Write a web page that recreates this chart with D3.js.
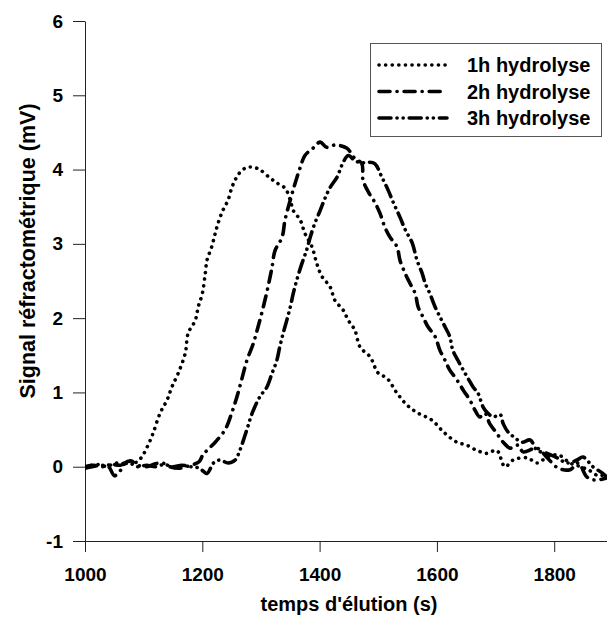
<!DOCTYPE html>
<html>
<head>
<meta charset="utf-8">
<script src="https://cdn.jsdelivr.net/npm/d3@7"></script>
<style>
  html, body { margin: 0; padding: 0; background: #fff; }
  svg { display: block; font-family: "Liberation Sans", Arial, sans-serif; font-weight: bold; }
</style>
</head>
<body>
<svg id="chart" width="607" height="619"></svg>
<script>
// Elution time (s) and refractometric signal (mV) for each hydrolysis duration
const t1h = [1000,1012,1025,1038,1050,1062,1075,1088,1099,1108,1116,1128,1140,1148,1159,1171,1176,1188,1193,1200,1205,1208,1216,1222,1227,1235,1244,1250,1256,1264,1276,1287,1298,1315,1327,1341,1350,1355,1367,1375,1387,1395,1404,1418,1426,1440,1449,1460,1469,1486,1500,1515,1532,1549,1568,1591,1611,1634,1651,1668,1685,1702,1716,1730,1754,1771,1788,1807,1827,1845,1860,1875,1890];
const v1h = [0.0,0.02,0.03,0.0,0.05,0.04,0.07,0.06,0.16,0.3,0.45,0.72,0.9,1.07,1.26,1.53,1.8,1.97,2.15,2.33,2.6,2.78,2.96,3.14,3.28,3.45,3.59,3.75,3.86,3.96,4.03,4.03,4.0,3.89,3.82,3.75,3.59,3.45,3.32,3.14,2.96,2.74,2.56,2.42,2.24,2.11,1.97,1.84,1.61,1.48,1.26,1.19,0.99,0.83,0.72,0.63,0.47,0.33,0.29,0.22,0.18,0.22,0.0,0.09,0.12,0.05,0.13,0.16,0.05,0.0,-0.05,-0.12,-0.1];

const t2h = [1000,1012,1025,1040,1050,1058,1068,1078,1090,1105,1120,1132,1145,1160,1172,1185,1195,1201,1212,1222,1239,1250,1259,1267,1276,1287,1295,1304,1312,1319,1324,1336,1341,1350,1358,1367,1375,1389,1401,1412,1426,1446,1460,1472,1474,1483,1494,1503,1511,1520,1532,1537,1546,1554,1563,1568,1576,1585,1597,1605,1614,1622,1634,1645,1656,1665,1673,1682,1690,1702,1713,1725,1738,1747,1771,1788,1807,1827,1841,1856,1870,1890];
const v2h = [-0.02,0.0,0.02,0.0,-0.12,-0.08,0.05,0.08,0.02,0.0,0.04,0.05,0.0,-0.02,0.0,0.03,0.07,0.16,0.25,0.33,0.5,0.72,0.94,1.17,1.43,1.66,1.88,2.15,2.42,2.69,2.91,3.09,3.32,3.59,3.81,4.03,4.19,4.29,4.37,4.30,4.33,4.29,4.15,4.08,3.86,3.70,3.56,3.41,3.23,3.09,2.96,2.78,2.6,2.47,2.33,2.15,2.02,1.88,1.75,1.57,1.43,1.30,1.17,1.03,0.9,0.76,0.67,0.72,0.58,0.45,0.33,0.25,0.29,0.2,0.25,0.12,-0.02,-0.04,0.05,-0.14,-0.18,-0.15];

const t3h = [1000,1015,1030,1045,1060,1075,1090,1105,1120,1135,1150,1165,1180,1195,1208,1219,1230,1244,1256,1264,1276,1285,1298,1310,1319,1327,1332,1338,1344,1350,1355,1361,1370,1378,1384,1392,1401,1409,1418,1430,1438,1449,1460,1472,1483,1494,1506,1517,1526,1537,1546,1558,1566,1575,1580,1588,1597,1605,1614,1622,1627,1636,1645,1653,1662,1670,1679,1687,1696,1708,1713,1721,1733,1745,1759,1771,1788,1805,1822,1839,1849,1866,1881,1890];
const v3h = [0.0,0.02,0.0,0.03,0.02,0.05,0.0,0.02,0.0,0.03,0.0,0.02,0.0,-0.02,-0.09,0.05,0.09,0.05,0.09,0.22,0.5,0.72,0.94,1.07,1.26,1.43,1.61,1.8,1.97,2.15,2.33,2.51,2.74,2.92,3.09,3.28,3.45,3.61,3.76,3.9,4.06,4.19,4.12,4.09,4.1,4.08,3.9,3.72,3.55,3.36,3.19,3.01,2.78,2.6,2.47,2.33,2.15,2.02,1.88,1.75,1.57,1.43,1.30,1.19,1.07,0.99,0.8,0.72,0.67,0.7,0.58,0.47,0.39,0.33,0.36,0.22,0.18,0.12,0.05,0.09,0.13,0.0,-0.08,-0.14];

const seriesNames = ["1h hydrolyse", "2h hydrolyse", "3h hydrolyse"];
const xTicks = [1000, 1200, 1400, 1600, 1800];
const yTicks = [-1, 0, 1, 2, 3, 4, 5, 6];
const xTitle = "temps d'élution (s)";
const yTitle = "Signal réfractométrique (mV)";

const series = [
  { name: seriesNames[0], t: t1h, v: v1h, dash: "0.1,6.5" },
  { name: seriesNames[1], t: t2h, v: v2h, dash: "11,7,0.1,7" },
  { name: seriesNames[2], t: t3h, v: v3h, dash: "12,6,0.1,6,0.1,6" }
];

const svg = d3.select("#chart");
const x = d3.scaleLinear().domain([1000, 1890]).range([85, 607]);
const y = d3.scaleLinear().domain([-1, 6]).range([541, 21]);

svg.append("defs").append("clipPath").attr("id", "plot")
  .append("rect").attr("x", 85).attr("y", 0).attr("width", 522).attr("height", 560);

// axes (plain hyphen for negative labels)
const fmt = d => String(d);
const xAxis = svg.append("g").attr("transform", `translate(0,${y(-1)})`)
  .call(d3.axisBottom(x).tickValues(xTicks).tickSize(11).tickSizeOuter(0).tickPadding(16).tickFormat(fmt));
const yAxis = svg.append("g").attr("transform", `translate(${x(1000)},0)`)
  .call(d3.axisLeft(y).tickValues(yTicks).tickSize(12).tickSizeOuter(0).tickPadding(10).tickFormat(fmt));
[xAxis, yAxis].forEach(g => {
  g.selectAll("path, line").attr("stroke", "#222").attr("stroke-width", 1);
  g.selectAll("text").attr("fill", "#000").style("font-size", "19px").style("font-weight", "bold")
    .style("font-family", "'Liberation Sans', Arial, sans-serif");
});

// curves
const line = d3.line().x(d => x(d[0])).y(d => y(d[1])).curve(d3.curveCatmullRom.alpha(0.5));
const plot = svg.append("g").attr("clip-path", "url(#plot)");
series.forEach(s => {
  plot.append("path")
    .datum(s.t.map((t, i) => [t, s.v[i]]))
    .attr("d", line)
    .attr("fill", "none")
    .attr("stroke", "#000")
    .attr("stroke-width", 3.6)
    .attr("stroke-linecap", "round")
    .attr("stroke-linejoin", "round")
    .attr("stroke-dasharray", s.dash);
});

// axis titles
svg.append("text").attr("x", 349).attr("y", 611).attr("text-anchor", "middle")
  .style("font-size", "20px").text(xTitle);
svg.append("text").attr("transform", "translate(35,251) rotate(-90)").attr("text-anchor", "middle")
  .style("font-size", "21.5px").text(yTitle);

// legend
const lg = svg.append("g");
lg.append("rect").attr("x", 370.5).attr("y", 43.5).attr("width", 231).attr("height", 93)
  .attr("fill", "#fff").attr("stroke", "#555").attr("stroke-width", 1);
series.forEach((s, i) => {
  const cy = 65 + i * 26.5;
  lg.append("line").attr("x1", 379).attr("x2", 447).attr("y1", cy).attr("y2", cy)
    .attr("stroke", "#000").attr("stroke-width", 3.6).attr("stroke-linecap", "round")
    .attr("stroke-dasharray", s.dash);
  lg.append("text").attr("x", 467).attr("y", cy + 7).style("font-size", "20px").text(s.name);
});
</script>
</body>
</html>
